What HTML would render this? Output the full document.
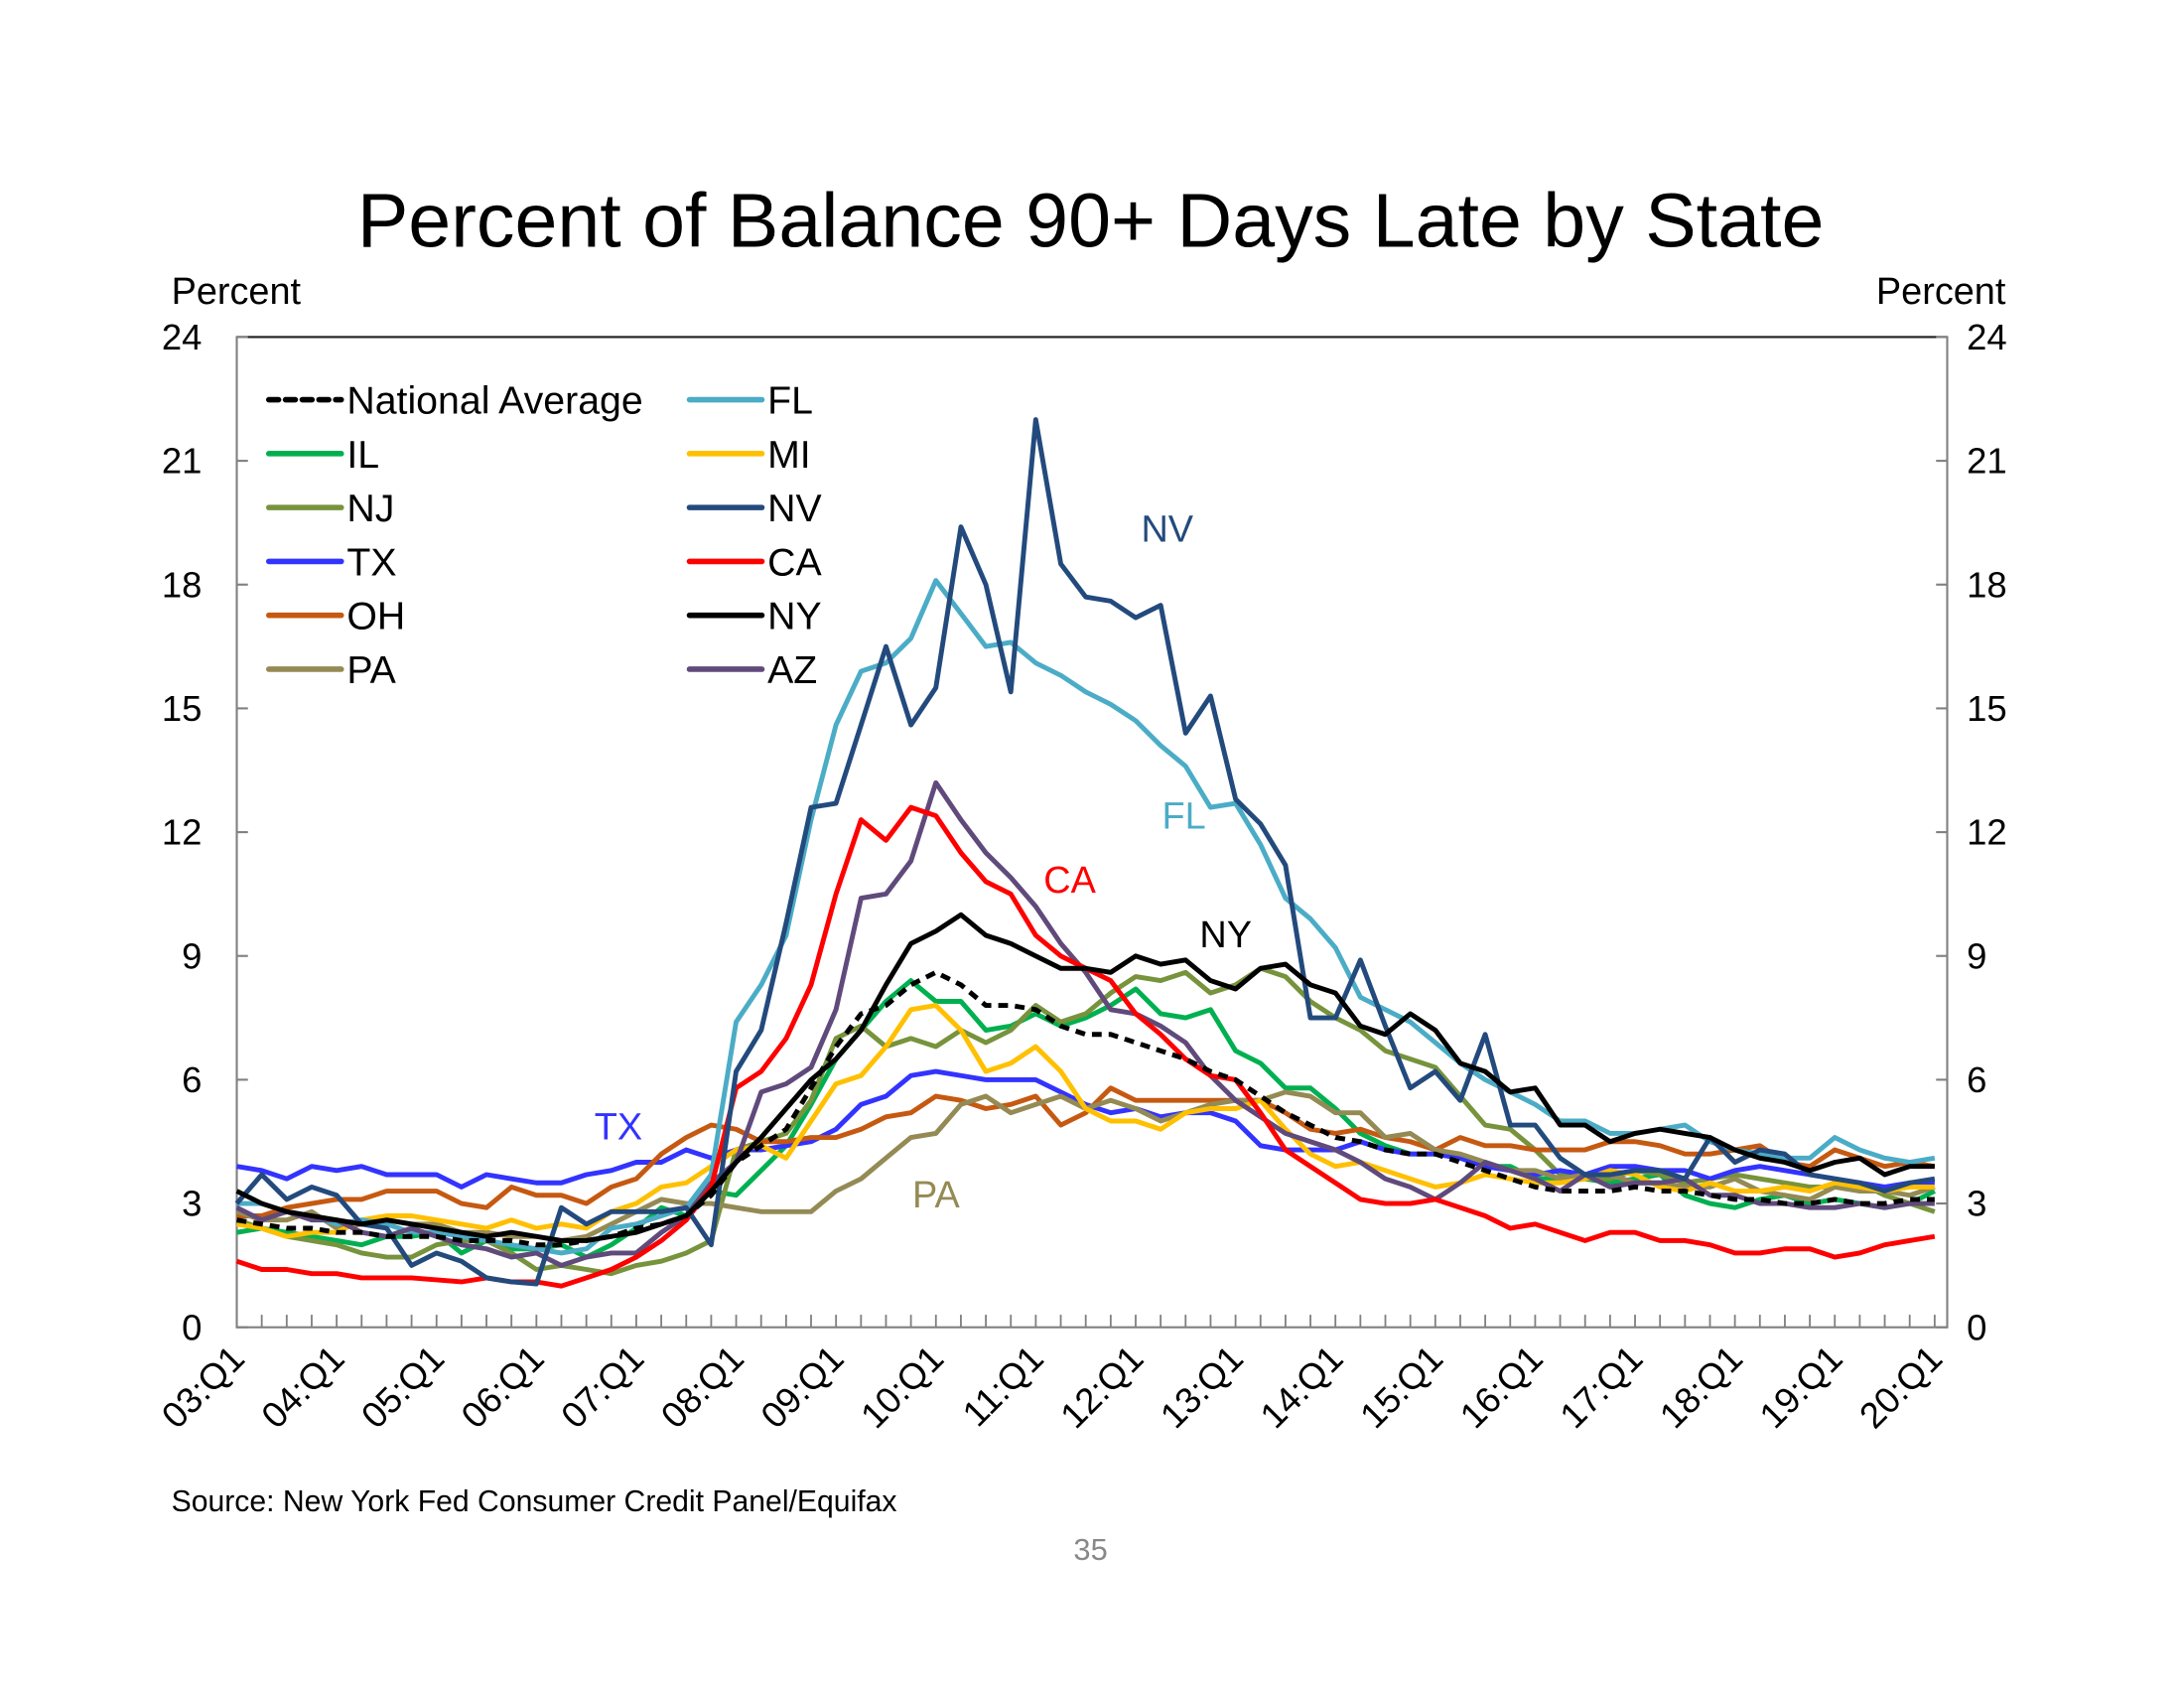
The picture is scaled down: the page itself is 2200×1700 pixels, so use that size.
<!DOCTYPE html>
<html><head><meta charset="utf-8"><style>
html,body{margin:0;padding:0;background:#fff;width:2200px;height:1700px;overflow:hidden}
svg{display:block}
text{font-family:"Liberation Sans",Arial,sans-serif}
</style></head><body>
<svg id="chart" width="2200" height="1700" viewBox="0 0 1568 1212" preserveAspectRatio="none" xmlns="http://www.w3.org/2000/svg">
<text x="783" y="177" text-anchor="middle" font-size="55">Percent of Balance 90+ Days Late by State</text>
<text x="123" y="218" font-size="27">Percent</text>
<text x="1440" y="218" text-anchor="end" font-size="27">Percent</text>
<g id="axes"></g>
<g id="series"></g>
<g id="legend"></g>
<text x="838" y="389" text-anchor="middle" font-size="27" fill="#234a7d">NV</text>
<text x="850" y="595" text-anchor="middle" font-size="27" fill="#4bacc6">FL</text>
<text x="768" y="641" text-anchor="middle" font-size="27" fill="#ff0000">CA</text>
<text x="880" y="680" text-anchor="middle" font-size="27" fill="#000">NY</text>
<text x="444" y="818" text-anchor="middle" font-size="27" fill="#3333ff">TX</text>
<text x="672" y="867" text-anchor="middle" font-size="27" fill="#948a54">PA</text>
<text x="123" y="1085" font-size="21.5">Source: New York Fed Consumer Credit Panel/Equifax</text>
<text x="783" y="1120" text-anchor="middle" font-size="22" fill="#888">35</text>
</svg>
<script>
const yTicks = [0, 3, 6, 9, 12, 15, 18, 21, 24];
const xLabels = ["03:Q1","04:Q1","05:Q1","06:Q1","07:Q1","08:Q1","09:Q1","10:Q1","11:Q1","12:Q1","13:Q1","14:Q1","15:Q1","16:Q1","17:Q1","18:Q1","19:Q1","20:Q1"];
const seriesNames = ["National Average","IL","NJ","TX","OH","PA","FL","MI","NV","CA","NY","AZ"];
const natAvg = [2.6,2.5,2.4,2.4,2.3,2.3,2.2,2.2,2.2,2.1,2.1,2.1,2.0,2.0,2.1,2.2,2.4,2.5,2.7,3.2,4.0,4.4,4.8,5.8,6.8,7.6,7.8,8.3,8.6,8.3,7.8,7.8,7.7,7.3,7.1,7.1,6.9,6.7,6.5,6.2,6.0,5.6,5.2,4.9,4.6,4.5,4.3,4.2,4.2,4.0,3.8,3.6,3.4,3.3,3.3,3.3,3.4,3.3,3.3,3.2,3.1,3.1,3.0,3.0,3.1,3.0,3.0,3.1,3.1];
const il = [2.3,2.4,2.3,2.2,2.1,2.0,2.2,2.2,2.3,1.8,2.1,1.9,1.9,2.0,1.7,2.0,2.4,2.9,2.7,3.3,3.2,3.8,4.4,5.4,6.5,7.2,7.9,8.4,7.9,7.9,7.2,7.3,7.6,7.3,7.5,7.8,8.2,7.6,7.5,7.7,6.7,6.4,5.8,5.8,5.3,4.7,4.4,4.2,4.2,4.1,3.9,3.9,3.6,3.6,3.6,3.5,3.6,3.7,3.2,3.0,2.9,3.1,3.2,3.0,3.1,3.0,2.9,3.0,3.3];
const nj = [2.6,2.4,2.2,2.1,2.0,1.8,1.7,1.7,2.0,2.1,2.1,1.8,1.4,1.5,1.4,1.3,1.5,1.6,1.8,2.1,4.3,4.5,4.7,5.5,7.0,7.3,6.8,7.0,6.8,7.2,6.9,7.2,7.8,7.4,7.6,8.1,8.5,8.4,8.6,8.1,8.3,8.7,8.5,7.9,7.5,7.2,6.7,6.5,6.3,5.6,4.9,4.8,4.3,3.7,3.6,3.6,3.8,3.7,3.5,3.6,3.7,3.6,3.5,3.4,3.4,3.5,3.2,3.0,2.8];
const tx = [3.9,3.8,3.6,3.9,3.8,3.9,3.7,3.7,3.7,3.4,3.7,3.6,3.5,3.5,3.7,3.8,4.0,4.0,4.3,4.1,4.3,4.3,4.4,4.5,4.8,5.4,5.6,6.1,6.2,6.1,6.0,6.0,6.0,5.7,5.4,5.2,5.3,5.1,5.2,5.2,5.0,4.4,4.3,4.3,4.3,4.5,4.3,4.2,4.2,4.1,3.9,3.8,3.7,3.8,3.7,3.9,3.9,3.8,3.8,3.6,3.8,3.9,3.8,3.7,3.6,3.5,3.4,3.5,3.5];
const oh = [2.7,2.7,2.9,3.0,3.1,3.1,3.3,3.3,3.3,3.0,2.9,3.4,3.2,3.2,3.0,3.4,3.6,4.2,4.6,4.9,4.8,4.5,4.5,4.6,4.6,4.8,5.1,5.2,5.6,5.5,5.3,5.4,5.6,4.9,5.2,5.8,5.5,5.5,5.5,5.5,5.5,5.5,5.2,4.8,4.7,4.8,4.6,4.5,4.3,4.6,4.4,4.4,4.3,4.3,4.3,4.5,4.5,4.4,4.2,4.2,4.3,4.4,4.0,3.9,4.3,4.1,3.9,4.0,3.9];
const pa = [2.8,2.6,2.6,2.8,2.4,2.5,2.6,2.5,2.5,2.3,2.3,2.2,2.2,2.1,2.2,2.5,2.8,3.1,3.0,3.0,2.9,2.8,2.8,2.8,3.3,3.6,4.1,4.6,4.7,5.4,5.6,5.2,5.4,5.6,5.3,5.5,5.3,5.0,5.2,5.4,5.5,5.5,5.7,5.6,5.2,5.2,4.6,4.7,4.3,4.2,4.0,3.8,3.8,3.6,3.7,3.7,3.5,3.5,3.4,3.4,3.6,3.3,3.2,3.1,3.4,3.3,3.3,3.2,3.4];
const fl = [3.0,3.0,2.8,2.7,2.5,2.6,2.5,2.3,2.3,2.2,2.1,2.0,1.9,1.8,1.9,2.4,2.5,2.7,2.9,3.7,7.4,8.3,9.5,12.3,14.6,15.9,16.1,16.7,18.1,17.3,16.5,16.6,16.1,15.8,15.4,15.1,14.7,14.1,13.6,12.6,12.7,11.7,10.4,9.9,9.2,8.0,7.7,7.4,6.9,6.4,6.0,5.7,5.4,5.0,5.0,4.7,4.7,4.8,4.9,4.5,4.3,4.2,4.1,4.1,4.6,4.3,4.1,4.0,4.1];
const mi = [2.5,2.4,2.2,2.3,2.3,2.6,2.7,2.7,2.6,2.5,2.4,2.6,2.4,2.5,2.4,2.8,3.0,3.4,3.5,3.9,4.3,4.4,4.1,5.0,5.9,6.1,6.8,7.7,7.8,7.2,6.2,6.4,6.8,6.2,5.3,5.0,5.0,4.8,5.2,5.3,5.3,5.5,4.8,4.2,3.9,4.0,3.8,3.6,3.4,3.5,3.7,3.6,3.5,3.5,3.6,3.8,3.7,3.4,3.3,3.5,3.3,3.3,3.4,3.3,3.5,3.4,3.3,3.4,3.4];
const nv = [3.0,3.7,3.1,3.4,3.2,2.5,2.4,1.5,1.8,1.6,1.2,1.1,1.05,2.9,2.5,2.8,2.8,2.8,2.9,2.0,6.2,7.2,9.8,12.6,12.7,14.6,16.5,14.6,15.5,19.4,18.0,15.4,22.0,18.5,17.7,17.6,17.2,17.5,14.4,15.3,12.8,12.2,11.2,7.5,7.5,8.9,7.3,5.8,6.2,5.5,7.1,4.9,4.9,4.1,3.7,3.7,3.8,3.8,3.6,4.6,4.0,4.3,4.2,3.7,3.6,3.5,3.3,3.5,3.6];
const ca = [1.6,1.4,1.4,1.3,1.3,1.2,1.2,1.2,1.15,1.1,1.2,1.1,1.1,1.0,1.2,1.4,1.7,2.1,2.6,3.4,5.8,6.2,7.0,8.3,10.5,12.3,11.8,12.6,12.4,11.5,10.8,10.5,9.5,9.0,8.7,8.4,7.6,7.1,6.5,6.1,6.0,5.2,4.3,3.9,3.5,3.1,3.0,3.0,3.1,2.9,2.7,2.4,2.5,2.3,2.1,2.3,2.3,2.1,2.1,2.0,1.8,1.8,1.9,1.9,1.7,1.8,2.0,2.1,2.2];
const ny = [3.3,3.0,2.8,2.7,2.6,2.5,2.6,2.5,2.4,2.3,2.2,2.3,2.2,2.1,2.1,2.2,2.3,2.5,2.7,3.3,4.0,4.6,5.3,6.0,6.5,7.2,8.3,9.3,9.6,10.0,9.5,9.3,9.0,8.7,8.7,8.6,9.0,8.8,8.9,8.4,8.2,8.7,8.8,8.3,8.1,7.3,7.1,7.6,7.2,6.4,6.2,5.7,5.8,4.9,4.9,4.5,4.7,4.8,4.7,4.6,4.3,4.1,4.0,3.8,4.0,4.1,3.7,3.9,3.9];
const az = [2.9,2.6,2.8,2.6,2.6,2.3,2.2,2.4,2.2,2.0,1.9,1.7,1.8,1.5,1.7,1.8,1.8,2.3,2.7,3.5,4.0,5.7,5.9,6.3,7.7,10.4,10.5,11.3,13.2,12.3,11.5,10.9,10.2,9.3,8.6,7.7,7.6,7.3,6.9,6.1,5.5,5.1,4.7,4.5,4.3,4.0,3.6,3.4,3.1,3.5,4.0,3.8,3.6,3.3,3.7,3.4,3.5,3.5,3.6,3.2,3.2,3.0,3.0,2.9,2.9,3.0,2.9,3.0,3.0];

const NS = "http://www.w3.org/2000/svg";
const X0 = 170, X1 = 1398, XLAST = 1389, Y0 = 953, Y1 = 242, NQ = 69;
function xAt(i){ return X0 + i * (XLAST - X0) / (NQ - 1); }
function yAt(v){ return Y0 - v * (Y0 - Y1) / 24; }
function mk(tag, attrs, parent){ const e = document.createElementNS(NS, tag); for (const k in attrs) e.setAttribute(k, attrs[k]); parent.appendChild(e); return e; }

const axes = document.getElementById('axes');
const frame = mk('rect', {x:X0, y:Y1, width:X1-X0, height:Y0-Y1, fill:'none', stroke:'#808080', 'stroke-width':1.5}, axes);


const topLine = mk('line', {x1:X0, y1:Y1, x2:X1, y2:Y1, stroke:'#222', 'stroke-width':1.5}, axes);


yTicks.forEach(v => {
  const y = yAt(v);
  const t1 = mk('line', {x1:X0, y1:y, x2:X0+8, y2:y, stroke:'#808080', 'stroke-width':1.5}, axes);
  
  
  const t2 = mk('line', {x1:X1-8, y1:y, x2:X1, y2:y, stroke:'#808080', 'stroke-width':1.5}, axes);
  
  
  const l = mk('text', {x:145, y:y+9, 'text-anchor':'end', 'font-size':26}, axes);
  l.textContent = v;
  
  
  const r = mk('text', {x:1412, y:y+9, 'font-size':26}, axes);
  r.textContent = v;
  
  
});
for (let i = 0; i < NQ; i++) {
  const x = xAt(i);
  const t = mk('line', {x1:x, y1:Y0, x2:x, y2:Y0-9, stroke:'#808080', 'stroke-width':1.3}, axes);
  
  
}
xLabels.forEach((lab, k) => {
  const x = xAt(k*4), y = 977;
  const t = mk('text', {x:x+7, y:y, 'text-anchor':'end', 'font-size':26, transform:'rotate(-45 '+(x+7)+' '+y+')'}, axes);
  t.textContent = lab;
  
  
});

const seriesDefs = [
  {name:"IL", data:il, color:"#00b050"},
  {name:"NJ", data:nj, color:"#77933c"},
  {name:"TX", data:tx, color:"#3333ff"},
  {name:"OH", data:oh, color:"#c65911"},
  {name:"PA", data:pa, color:"#948a54"},
  {name:"MI", data:mi, color:"#ffc000"},
  {name:"FL", data:fl, color:"#4bacc6"},
  {name:"AZ", data:az, color:"#604a7b"},
  {name:"CA", data:ca, color:"#ff0000"},
  {name:"NV", data:nv, color:"#234a7d"},
  {name:"NY", data:ny, color:"#000000"},
  {name:"National Average", data:natAvg, color:"#000000", dash:"7 5"}
];
const sg = document.getElementById('series');
seriesDefs.forEach(s => {
  const pts = s.data.map((v,i) => xAt(i).toFixed(1)+','+yAt(v).toFixed(1)).join(' ');
  const attrs = {points:pts, fill:'none', stroke:s.color, 'stroke-width':3.5, 'stroke-linejoin':'round'};
  if (s.dash) attrs['stroke-dasharray'] = s.dash;
  const p = mk('polyline', attrs, sg);
  
  
});

const legendItems = [
  {name:"National Average", color:"#000", dash:"7 5", col:0, row:0},
  {name:"IL", color:"#00b050", col:0, row:1},
  {name:"NJ", color:"#77933c", col:0, row:2},
  {name:"TX", color:"#3333ff", col:0, row:3},
  {name:"OH", color:"#c65911", col:0, row:4},
  {name:"PA", color:"#948a54", col:0, row:5},
  {name:"FL", color:"#4bacc6", col:1, row:0},
  {name:"MI", color:"#ffc000", col:1, row:1},
  {name:"NV", color:"#234a7d", col:1, row:2},
  {name:"CA", color:"#ff0000", col:1, row:3},
  {name:"NY", color:"#000", col:1, row:4},
  {name:"AZ", color:"#604a7b", col:1, row:5}
];
const lg = document.getElementById('legend');
legendItems.forEach(it => {
  const lx = it.col ? 495 : 193, ly = 287 + it.row * 38.7;
  const g = mk('g', {}, lg);
  
  
  const a = {x1:lx, y1:ly, x2:lx+52, y2:ly, stroke:it.color, 'stroke-width':4, 'stroke-linecap':'round'};
  if (it.dash) a['stroke-dasharray'] = it.dash;
  mk('line', a, g);
  const t = mk('text', {x:lx+56, y:ly+10, 'font-size':28}, g);
  t.textContent = it.name;
});
</script>
</body></html>
